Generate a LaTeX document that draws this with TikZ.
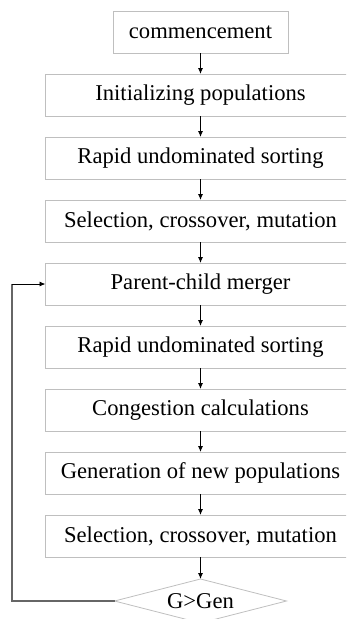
\documentclass[tikz,border=0pt]{standalone}
\usepackage{fontspec}
\setmainfont{Liberation Serif}
\usetikzlibrary{positioning,shapes.geometric,arrows.meta}

\begin{document}
\begin{tikzpicture}
	[x=1pt, y=1pt,
	 node distance=21pt,
	 box/.style={rectangle, draw=black!25, line width=0.8pt, outer sep=0pt, minimum height=42pt, inner sep=0pt, font=\fontsize{22.6}{27}\selectfont},
	 wide/.style={box, minimum width=310pt},
	 flow/.style={-{Latex[length=6pt,width=5pt]}, line width=0.9pt}]
	\useasboundingbox (0,0) rectangle (346,-619);
	\clip (0,0) rectangle (346,-619);
	\node[box, minimum width=175pt] (start) at (200.5,-32) {commencement};
	\node[wide, below=of start] (init) {Initializing populations};
	\node[wide, below=of init] (sort1) {Rapid undominated sorting};
	\node[wide, below=of sort1] (sel1) {Selection, crossover, mutation};
	\node[wide, below=of sel1] (merge) {Parent-child merger};
	\node[wide, below=of merge] (sort2) {Rapid undominated sorting};
	\node[wide, below=of sort2] (crowd) {Congestion calculations};
	\node[wide, below=of crowd] (newpop) {Generation of new populations};
	\node[wide, below=of newpop] (sel2) {Selection, crossover, mutation};
	\node[box, diamond, aspect=3.9, minimum width=172pt, minimum height=44pt, below=22pt of sel2] (test) {G>Gen};
	\coordinate (loop) at (12,-284);
	\draw[flow] (start) -- (init);
	\draw[flow] (init) -- (sort1);
	\draw[flow] (sort1) -- (sel1);
	\draw[flow] (sel1) -- (merge);
	\draw[flow] (merge) -- (sort2);
	\draw[flow] (sort2) -- (crowd);
	\draw[flow] (crowd) -- (newpop);
	\draw[flow] (newpop) -- (sel2);
	\draw[flow] (sel2) -- (test);
	\draw[black!60, line width=1.2pt] (test.west) -| (loop);
	\draw[flow] (loop) -- (merge.west);
\end{tikzpicture}
\end{document}
